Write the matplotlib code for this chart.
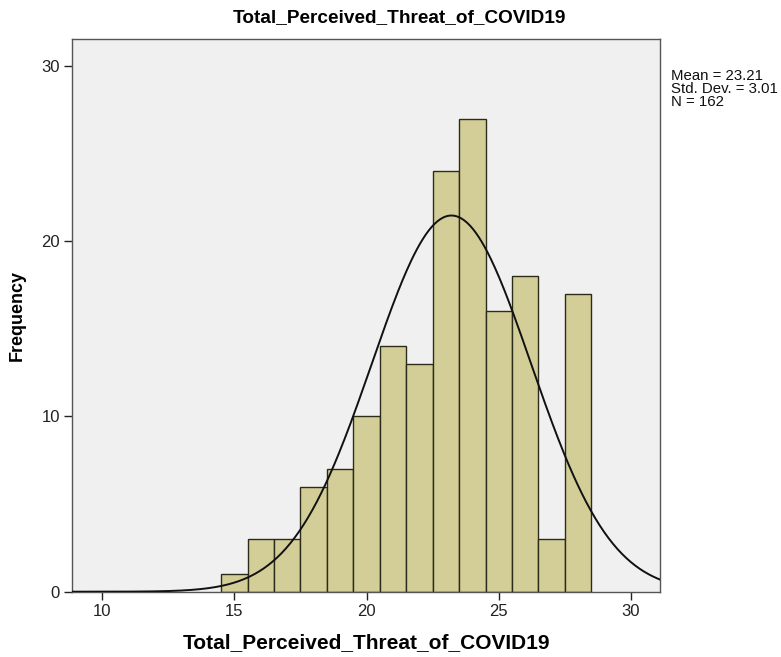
import numpy as np
import matplotlib.pyplot as plt

plt.rcParams['font.family'] = ['Liberation Sans', 'DejaVu Sans']

# score values (bin centres) and their frequencies
scores = [15, 16, 17, 18, 19, 20, 21, 22, 23, 24, 25, 26, 27, 28]
counts = [1, 3, 3, 6, 7, 10, 14, 13, 24, 27, 16, 18, 3, 17]
x_ticks = [10, 15, 20, 25, 30]
y_ticks = [0, 10, 20, 30]

mean_val = 23.21
std_val = 3.01
n_val = 162
var_name = "Total_Perceived_Threat_of_COVID19"

fig = plt.figure(figsize=(7.81, 6.57), dpi=100)
ax = fig.add_axes([0.0926, 0.0994, 0.7525, 0.8408])
ax.set_facecolor('#f0f0f0')

# histogram bars, width 1 around each score
ax.bar(scores, counts, width=1.0, color='#d3ce97', edgecolor='#2b2b1a',
       linewidth=1.0, zorder=2)

# normal curve scaled to the counts
x_lo, x_hi = 8.87, 31.1
xs = np.linspace(x_lo, x_hi, 400)
pdf = np.exp(-0.5 * ((xs - mean_val) / std_val) ** 2) / (std_val * np.sqrt(2 * np.pi))
ax.plot(xs, n_val * 1.0 * pdf, color='#111111', linewidth=1.4, zorder=3)

ax.set_xlim(x_lo, x_hi)
ax.set_ylim(0, 31.53)
ax.set_xticks(x_ticks)
ax.set_yticks(y_ticks)
ax.tick_params(direction='out', length=6, width=1.0, labelsize=12,
               colors='#222222', pad=3)
for sp in ax.spines.values():
    sp.set_color('#555555')
    sp.set_linewidth(1.0)

ax.set_xlabel(var_name, fontsize=15, fontweight='bold', labelpad=10)
ax.set_ylabel('Frequency', fontsize=13, fontweight='bold', labelpad=11)
fig.text(0.511, 0.974, var_name, ha='center', va='center',
         fontsize=13.7, fontweight='bold')

stats = f"Mean = {mean_val:.2f}\nStd. Dev. = {std_val:.2f}\nN = {n_val}"
fig.text(0.859, 0.895, stats, ha='left', va='top', fontsize=10.8,
         linespacing=0.9, color='#111111')

fig.savefig('out.png', dpi=100)
